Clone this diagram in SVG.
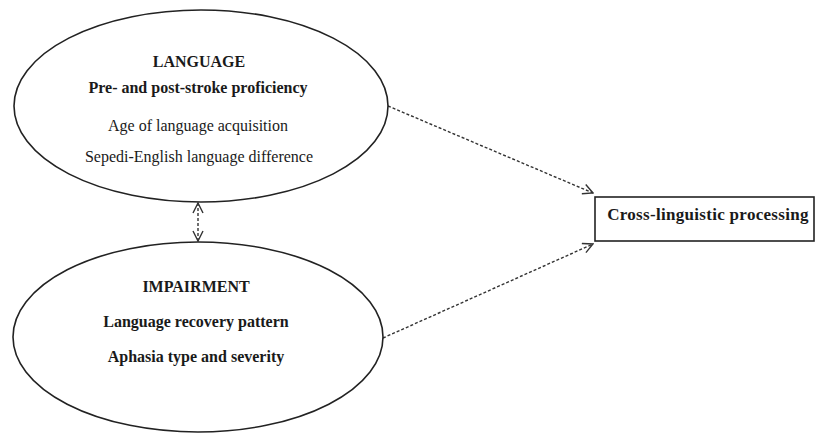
<svg xmlns="http://www.w3.org/2000/svg" width="817" height="434" viewBox="0 0 817 434">
<style>
.shape{fill:#fff;stroke:#222;stroke-width:1.6}
.t{font-family:"Liberation Serif","Times New Roman",serif;font-size:16px;fill:#1a1a1a;text-anchor:middle}
.b{font-weight:bold}
.c{fill:none;stroke:#333;stroke-width:1.4;stroke-dasharray:3 2}
</style>
<defs>
<marker id="ah" viewBox="0 0 12 12" refX="11" refY="6" markerWidth="12" markerHeight="12" markerUnits="userSpaceOnUse" orient="auto-start-reverse">
<path d="M1,1 L11,6 L1,11" fill="none" stroke="#333" stroke-width="1.4" stroke-dasharray="none"/>
</marker>
</defs>
<rect width="817" height="434" fill="#fff"/>
<g id="connectors">
<path class="c" d="M388,106 L593,193" marker-end="url(#ah)"/>
<path class="c" d="M383,338 L593,244" marker-end="url(#ah)"/>
<path class="c" d="M198,203 L198,241" marker-start="url(#ah)" marker-end="url(#ah)"/>
</g>
<g id="language">
<ellipse class="shape" cx="201" cy="106" rx="187" ry="96"/>
<text class="t b" x="199" y="67">LANGUAGE</text>
<text class="t b" x="198" y="93">Pre- and post-stroke proficiency</text>
<text class="t" x="198" y="131">Age of language acquisition</text>
<text class="t" x="199" y="162">Sepedi-English language difference</text>
</g>
<g id="impairment">
<ellipse class="shape" cx="198" cy="337" rx="185" ry="95"/>
<text class="t b" x="196" y="292">IMPAIRMENT</text>
<text class="t b" x="196" y="327">Language recovery pattern</text>
<text class="t b" x="196" y="362">Aphasia type and severity</text>
</g>
<g id="cross">
<rect class="shape" x="595" y="197" width="219" height="44"/>
<text class="t b" x="708" y="220" style="font-size:17px;letter-spacing:0.3px">Cross-linguistic processing</text>
</g>
</svg>
